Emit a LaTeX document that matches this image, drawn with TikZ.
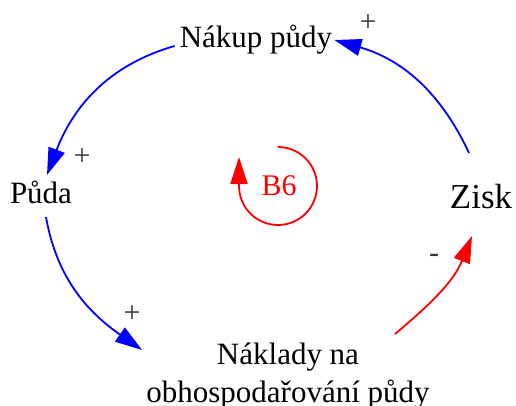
\documentclass[tikz,border=0pt]{standalone}
\usepackage{fontspec}
\setmainfont{Liberation Serif}
\usetikzlibrary{arrows.meta,positioning}

\begin{document}
\begin{tikzpicture}[x=1pt, y=1pt,
        var/.style={inner sep=0pt, font=\fontsize{31}{38}\selectfont, align=center},
        sign/.style={inner sep=0pt, font=\fontsize{30}{34}\selectfont, black!80},
        link/.style={-{Triangle[length=27pt, width=17pt]}, line width=1.8pt},
        poslink/.style={link, blue},
        neglink/.style={link, red}
    ]
    \useasboundingbox (0,-406) rectangle (516,0);

    % Promenne
    \node[var, anchor=base] (nakup) at (256,-48) {Nákup půdy};
    \node[var, anchor=base] (puda) at (41,-203) {Půda};
    \node[var, anchor=base, font=\fontsize{35}{40}\selectfont] (zisk) at (481,-208) {Zisk};
    \node[var] (naklady) at (288,-376) {Náklady na\\obhospodařování půdy};

    % Vazby
    \draw[poslink] ([shift={(-5,2)}]nakup.base west) to[out=196, in=69] ([shift={(6,28)}]puda.base);
    \draw[poslink] ([shift={(5,-14)}]puda.base) to[out=280, in=145] ([shift={(-146,26)}]naklady.center);
    \draw[neglink] ([shift={(107,42)}]naklady.center) to[out=40, in=248] ([shift={(-9,-28)}]zisk.base);
    \draw[poslink] ([shift={(-12,55)}]zisk.base) to[out=115, in=-16] ([shift={(2,8)}]nakup.base east);

    % Polarity
    \node[sign] (s1) at (368,-23) {+};
    \node[sign] (s2) at (82,-157) {+};
    \node[sign] (s3) at (132,-314) {+};
    \node[sign] (s4) at (434,-258) {-};

    % Smycka
    \node[inner sep=0pt, anchor=base, red, font=\fontsize{30}{34}\selectfont] (loop) at (279,-195) {B6};
    \draw[neglink] ([shift={(-1,48)}]loop.base) arc[start angle=90, end angle=-180, radius=39] -- ++(0,29);

\end{tikzpicture}
\end{document}
